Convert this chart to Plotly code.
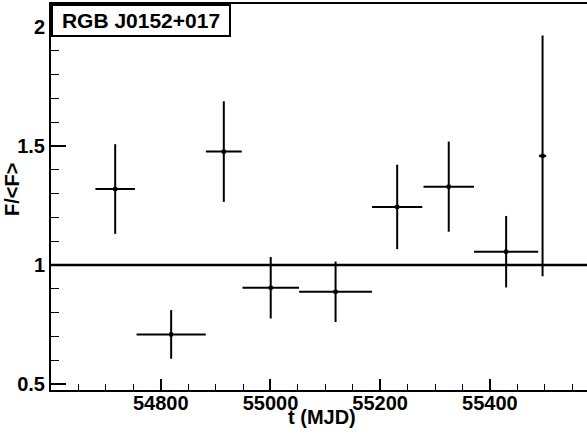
import plotly.graph_objects as go

# Data
t_mjd = [54717, 54819, 54915, 55000.5, 55118.7, 55231, 55325, 55429.6, 55496]
t_halfwidth = [36, 63, 32.7, 51.5, 66.4, 45.8, 46, 58.5, 6.6]
flux_ratio = [1.319, 0.709, 1.476, 0.905, 0.888, 1.244, 1.329, 1.056, 1.458]
flux_err = [0.188, 0.102, 0.211, 0.129, 0.127, 0.177, 0.189, 0.150, 0.505]
ref_level = 1.0

x_tickvals = [54800, 55000, 55200, 55400]
y_tickvals = [0.5, 1, 1.5, 2]
y_ticklabels = ["0.5", "1", "1.5", "2"]

source_name = "RGB J0152+017"
x_title = "t (MJD)"
y_title = "F/<F>"
x_range = [54600, 55577]
y_range = [0.476, 2.095]

FONT = "Liberation Sans, Arial, Helvetica, sans-serif"

fig = go.Figure()

fig.add_trace(go.Scatter(
    x=t_mjd, y=flux_ratio, mode="markers",
    marker=dict(color="black", size=4, symbol="square"),
    error_x=dict(type="data", array=t_halfwidth, visible=True, width=0,
                 thickness=2, color="black"),
    error_y=dict(type="data", array=flux_err, visible=True, width=0,
                 thickness=2, color="black"),
    showlegend=False, cliponaxis=False,
))

fig.add_shape(type="line", xref="paper", yref="y", x0=0, x1=1,
              y0=ref_level, y1=ref_level,
              line=dict(color="black", width=2.5))

W, H = 587, 440
ml, mr, mt, mb = 51, 0, 4, 50
pw, ph = W - ml - mr, H - mt - mb

def px_to_paper(px, py):
    return (px - ml) / pw, (H - mb - py) / ph

fig.update_layout(
    width=W, height=H,
    margin=dict(l=ml, r=mr, t=mt, b=mb, pad=0),
    paper_bgcolor="white", plot_bgcolor="white",
    font=dict(family=FONT, color="black"),
)

tickfont = dict(family=FONT, size=20, weight="bold", color="black")

fig.update_xaxes(
    range=x_range, showgrid=False, zeroline=False,
    showline=True, linecolor="black", linewidth=2, mirror=True,
    ticks="inside", tickcolor="black", ticklen=11, tickwidth=1.5,
    tickvals=x_tickvals, ticktext=["<b>%d</b>" % v for v in x_tickvals],
    tickfont=tickfont, ticklabelstandoff=-6,
    minor=dict(ticks="inside", ticklen=6, tickwidth=1, tickcolor="black",
               dtick=50, tick0=54600, showgrid=False),
)
fig.update_yaxes(
    range=y_range, showgrid=False, zeroline=False,
    showline=True, linecolor="black", linewidth=2,
    ticks="inside", tickcolor="black", ticklen=15, tickwidth=1.5,
    tickvals=y_tickvals, ticktext=["<b>%s</b>" % s for s in y_ticklabels],
    tickfont=tickfont,
    minor=dict(ticks="inside", ticklen=8, tickwidth=1, tickcolor="black",
               dtick=0.1, tick0=0.5, showgrid=False),
)

xt_x, xt_y = px_to_paper(322, 417)
fig.add_annotation(text="<b>%s</b>" % x_title, xref="paper", yref="paper", x=xt_x, y=xt_y,
                   showarrow=False, xanchor="center", yanchor="middle",
                   font=dict(family=FONT, size=20, weight="bold", color="black"))
yt_x, yt_y = px_to_paper(12, 190)
fig.add_annotation(text="<b>%s</b>" % y_title.replace("<", "&lt;").replace(">", "&gt;"),
                   xref="paper", yref="paper", x=yt_x, y=yt_y,
                   showarrow=False, textangle=-90, xanchor="center", yanchor="middle",
                   font=dict(family=FONT, size=20, weight="bold", color="black"))

fig.add_annotation(text="<b>%s</b>" % source_name, xref="paper", yref="paper", x=0, y=1,
                   xanchor="left", yanchor="top", showarrow=False,
                   bgcolor="white", bordercolor="black", borderwidth=2, borderpad=2,
                   width=172, height=25, align="center",
                   font=dict(family=FONT, size=21, weight="bold", color="black"))

fig.write_html("out.html", config={"displayModeBar": False},
               post_script="document.body.style.margin='0';")
